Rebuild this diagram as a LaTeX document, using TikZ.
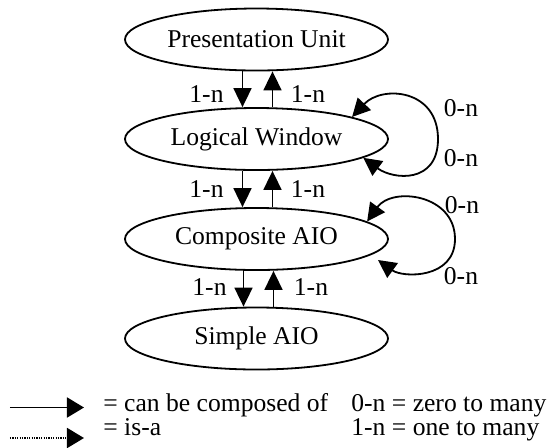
\documentclass[tikz,border=0pt]{standalone}
\usepackage{fontspec}
\setmainfont{Liberation Serif}
\usetikzlibrary{arrows.meta,shapes.geometric,calc}
\begin{document}
\begin{tikzpicture}[x=0.5pt,y=-0.5pt,
  every node/.style={font=\fontsize{12.8}{15}\selectfont},
  ell/.style={draw,ellipse,line width=0.9pt,minimum width=131.5pt,minimum height=31pt,inner sep=0pt},
  arr/.style={line width=0.9pt,-{Triangle[length=9.5pt,width=9pt]}},
  arrb/.style={line width=0.9pt,{Triangle[length=9pt,width=9pt]}-{Triangle[length=9pt,width=9pt]}},
  lbl/.style={inner sep=0pt},
  legarr/.style={line width=0.9pt,-{Triangle[length=8.5pt,width=10pt]}}]
\useasboundingbox (0,0) rectangle (548,447);
\node[ell] (pu) at (256.5,39.5) {Presentation Unit};
\node[ell] (lw) at (256.5,139) {Logical Window};
\node[ell] (ca) at (256.5,239) {Composite AIO};
\node[ell] (sa) at (256.5,338.5) {Simple AIO};
% vertical connectors
\draw[arr] ([xshift=-7pt]pu.south) -- ([xshift=-7pt]lw.north);
\draw[arr] ([xshift=8pt]lw.north) -- ([xshift=8pt]pu.south);
\draw[arr] ([xshift=-7pt]lw.south) -- ([xshift=-7pt]ca.north);
\draw[arr] ([xshift=8pt]ca.north) -- ([xshift=8pt]lw.south);
\draw[arr] ([xshift=-6.5pt]ca.south) -- ([xshift=-6.5pt]sa.north);
\draw[arr] ([xshift=8.5pt]sa.north) -- ([xshift=8.5pt]ca.south);
\node[lbl] (l1a) at (206.5,94) {1-n};
\node[lbl] (l1b) at (308,94) {1-n};
\node[lbl] (l2a) at (206.5,189) {1-n};
\node[lbl] (l2b) at (308,189) {1-n};
\node[lbl] (l3a) at (209.5,287) {1-n};
\node[lbl] (l3b) at (311,287) {1-n};
% self loops
\draw[arrb] (lw.13) .. controls +(30,-32) and +(0,-50) .. ($(lw.center)+(181.5,0)$)
  .. controls +(0,45) and +(30,22) .. (lw.-10);
\draw[arrb] (ca.9) .. controls +(25,-35) and +(0,-45) .. ($(ca.center)+(198.5,0)$)
  .. controls +(0,40) and +(25,18) .. ($(ca.center)+(121.5,21)$);
\node[lbl] (z1) at (461,108) {0-n};
\node[lbl] (z2) at (461,158) {0-n};
\node[lbl] (z3) at (462,205) {0-n};
\node[lbl] (z4) at (461,276) {0-n};
% legend
\coordinate (s1) at (10,407.5);
\coordinate (e1) at (84,407.5);
\coordinate (s2) at (10,438);
\coordinate (e2) at (84,438);
\draw[legarr] (s1) -- (e1);
\draw[legarr,dash pattern=on 0.6pt off 0.6pt] (s2) -- (e2);
\node[lbl,anchor=base west] (t1) at (103,411) {= can be composed of};
\node[lbl,anchor=base west] (t2) at (103,435) {= is-a};
\node[lbl,anchor=base west] (t3) at (351,411) {0-n = zero to many};
\node[lbl,anchor=base west] (t4) at (351,435) {1-n = one to many};
\end{tikzpicture}
\end{document}
